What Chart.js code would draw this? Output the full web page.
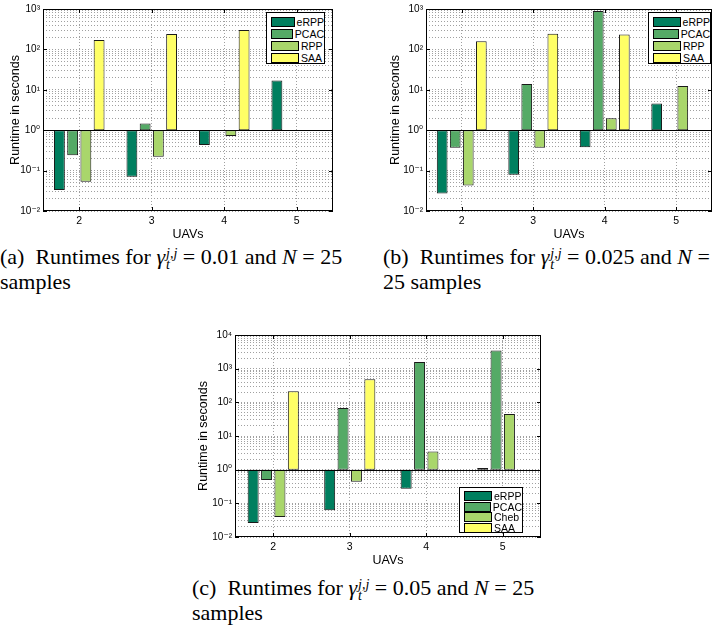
<!DOCTYPE html>
<html>
<head>
<meta charset="utf-8">
<script src="https://cdn.jsdelivr.net/npm/chart.js@4.4.1/dist/chart.umd.min.js"></script>
<style>
  body { margin: 0; background: #fff; }
  #page { position: relative; width: 723px; height: 627px; overflow: hidden; background: #fff; }
  canvas { position: absolute; }
  .legend {
    position: absolute; box-sizing: border-box; border: 1px solid #000; background: #fff;
    font-family: 'Liberation Sans', Arial, sans-serif; font-size: 10.5px; color: #000;
    padding-top: 3px;
  }
  .legend .row { display: flex; align-items: center; }
  .legend .sw { width: 26px; height: 8px; border: 1px solid #000; margin: 0 2px 0 4px; }
  .cap {
    position: absolute; font-family: 'Liberation Serif', 'Times New Roman', serif;
    font-size: 22px; line-height: 24px; color: #000; white-space: nowrap;
  }
  .cap i { font-style: italic; }
  .ss { display: inline-block; vertical-align: -5px; font-size: 14px; line-height: 11px; font-style: italic; margin-left: 1px; }
  .ss span { display: block; }
</style>
</head>
<body>
<div id="page">
  <canvas id="chartA" width="340" height="240" style="left:0;top:0"></canvas>
  <canvas id="chartB" width="343" height="240" style="left:380px;top:0"></canvas>
  <canvas id="chartC" width="362" height="240" style="left:188px;top:326px"></canvas>
  <div id="legendA" class="legend" style="left:266px;top:12px;width:59px;height:52px"></div>
  <div id="legendB" class="legend" style="left:648px;top:12px;width:63px;height:52px"></div>
  <div id="legendC" class="legend" style="left:459px;top:487px;width:64px;height:46px"></div>
  <div class="cap" style="left:0;top:245px">(a)&ensp;Runtimes for <i>γ</i><span class="ss"><span>j,j</span><span>t</span></span> = 0.01 and <i>N</i> = 25<br>samples</div>
  <div class="cap" style="left:383px;top:245px">(b)&ensp;Runtimes for <i>γ</i><span class="ss"><span>j,j</span><span>t</span></span> = 0.025 and <i>N</i> =<br>25 samples</div>
  <div class="cap" style="left:192px;top:576px">(c)&ensp;Runtimes for <i>γ</i><span class="ss"><span>j,j</span><span>t</span></span> = 0.05 and <i>N</i> = 25<br>samples</div>
</div>
<script>
// number of UAVs on the x axis
const uavs = ['2', '3', '4', '5'];

const namesAB = ['eRPP', 'PCAC', 'RPP', 'SAA'];
const namesC = ['eRPP', 'PCAC', 'Cheb', 'SAA'];
const barColors = ['#007f5f', '#55aa66', '#a9d66b', '#ffff66'];

// runtimes in seconds, gamma = 0.01
const erppA = [0.033, 0.07, 0.43, 17];
const pcacA = [0.24, 1.46, null, null];
const rppA = [0.053, 0.22, 0.72, null];
const saaA = [171, 240, 302, null];

// gamma = 0.025
const erppB = [0.027, 0.079, 0.38, 4.6];
const pcacB = [0.37, 14, 890, null];
const rppB = [0.043, 0.37, 1.98, 12.5];
const saaB = [158, 245, 233, null];

// gamma = 0.05
const erppC = [0.026, 0.062, 0.27, 1.12];
const pcacC = [0.49, 68, 1580, 3450];
const chebC = [0.039, 0.44, 3.45, 45];
const saaC = [215, 487, null, null];

// decade labels for the log axis
const decadeValues = [0.01, 0.1, 1, 10, 100, 1000, 10000];
const decadeLabels = ['10\u207B\u00B2', '10\u207B\u00B9', '10\u2070', '10\u00B9', '10\u00B2', '10\u00B3', '10\u2074'];

const sansFont = "'Liberation Sans', 'DejaVu Sans', Arial, sans-serif";
const gridColor = '#a0a0a0';

// box round the axes, inward tick marks and the bar baseline at 1 s
const framePlugin = {
    id: 'frame',
    afterDatasetsDraw(chart) {
        const { ctx, chartArea: a, scales } = chart;
        const y1 = Math.round(scales.y.getPixelForValue(1)) + 0.5;
        ctx.save();
        ctx.strokeStyle = '#000';
        ctx.lineWidth = 1;
        ctx.beginPath();
        ctx.moveTo(a.left, y1);
        ctx.lineTo(a.right, y1);
        decadeValues.forEach(v => {
            if (v > scales.y.max) return;
            const y = Math.round(scales.y.getPixelForValue(v)) + 0.5;
            ctx.moveTo(a.left, y); ctx.lineTo(a.left + 4, y);
            ctx.moveTo(a.right, y); ctx.lineTo(a.right - 4, y);
        });
        uavs.forEach((u, i) => {
            const x = Math.round(scales.x.getPixelForValue(i)) + 0.5;
            ctx.moveTo(x, a.top); ctx.lineTo(x, a.top + 4);
            ctx.moveTo(x, a.bottom); ctx.lineTo(x, a.bottom - 4);
        });
        ctx.stroke();
        ctx.strokeRect(Math.round(a.left) + 0.5, Math.round(a.top) + 0.5,
            Math.round(a.right - a.left) - 1, Math.round(a.bottom - a.top) - 1);
        ctx.restore();
    }
};

function buildLegend(id, names, rowHeight) {
    const box = document.getElementById(id);
    names.forEach((name, i) => {
        const row = document.createElement('div');
        row.className = 'row';
        row.style.height = rowHeight + 'px';
        const sw = document.createElement('div');
        sw.className = 'sw';
        sw.style.background = barColors[i];
        const label = document.createElement('span');
        label.textContent = name;
        row.appendChild(sw);
        row.appendChild(label);
        box.appendChild(row);
    });
}

function createRuntimeChart(canvasId, names, series, yMax, cfg) {
    const ctx = document.getElementById(canvasId).getContext('2d');
    new Chart(ctx, {
        type: 'bar',
        data: {
            labels: uavs,
            datasets: series.map((vals, i) => ({
                label: names[i],
                // bars hang from the 1 s baseline
                data: vals.map(v => v == null ? null : [1, v]),
                backgroundColor: barColors[i],
                borderColor: '#1a1a1a',
                borderWidth: 1,
                borderSkipped: false,
                categoryPercentage: cfg.catPct,
                barPercentage: 0.82,
            }))
        },
        options: {
            responsive: false,
            animation: false,
            layout: { padding: { top: cfg.top, right: cfg.right, left: 0, bottom: 0 } },
            plugins: { legend: { display: false }, tooltip: { enabled: false } },
            scales: {
                x: {
                    offset: true,
                    grid: { color: gridColor, offset: false, drawTicks: false, borderDash: [1, 2] },
                    border: { display: false, dash: [1, 2] },
                    ticks: { color: '#000', padding: 4, font: { family: sansFont, size: 10.5 } },
                    title: { display: true, text: 'UAVs', color: '#000', padding: { top: 0, bottom: -2 },
                        font: { family: sansFont, size: 12.5 } },
                    afterFit: s => { s.height = cfg.xHeight; },
                },
                y: {
                    type: 'logarithmic',
                    min: 0.01,
                    max: yMax,
                    grid: { color: gridColor, drawTicks: false, borderDash: [1, 2] },
                    border: { display: false, dash: [1, 2] },
                    ticks: {
                        autoSkip: false,
                        color: '#000',
                        padding: 3,
                        font: { family: sansFont, size: 10 },
                        callback: v => {
                            const k = decadeValues.findIndex(d => Math.abs(d - v) < d * 1e-6);
                            return k >= 0 ? decadeLabels[k] : '';
                        }
                    },
                    // grid at 1..9 x 10^n like log paper
                    afterBuildTicks: s => {
                        const ticks = [];
                        for (let e = -2; Math.pow(10, e) < yMax; e++) {
                            for (let m = 1; m < 10; m++) {
                                ticks.push({ value: +(m * Math.pow(10, e)).toPrecision(3) });
                            }
                        }
                        ticks.push({ value: yMax });
                        s.ticks = ticks;
                    },
                    title: { display: true, text: 'Runtime in seconds', color: '#000', padding: { top: 8, bottom: 0 },
                        font: { family: sansFont, size: 12.5 } },
                    afterFit: s => { s.width = cfg.yWidth; },
                }
            }
        },
        plugins: [framePlugin]
    });
}

createRuntimeChart('chartA', namesAB, [erppA, pcacA, rppA, saaA], 1000,
    { top: 7, right: 7, yWidth: 43, xHeight: 29, catPct: 0.73 });
createRuntimeChart('chartB', namesAB, [erppB, pcacB, rppB, saaB], 1000,
    { top: 7, right: 11, yWidth: 46, xHeight: 29, catPct: 0.73 });
createRuntimeChart('chartC', namesC, [erppC, pcacC, chebC, saaC], 10000,
    { top: 8, right: 9, yWidth: 47, xHeight: 29, catPct: 0.70 });

buildLegend('legendA', namesAB, 12);
buildLegend('legendB', namesAB, 12);
buildLegend('legendC', namesC, 10.5);
</script>
</body>
</html>
